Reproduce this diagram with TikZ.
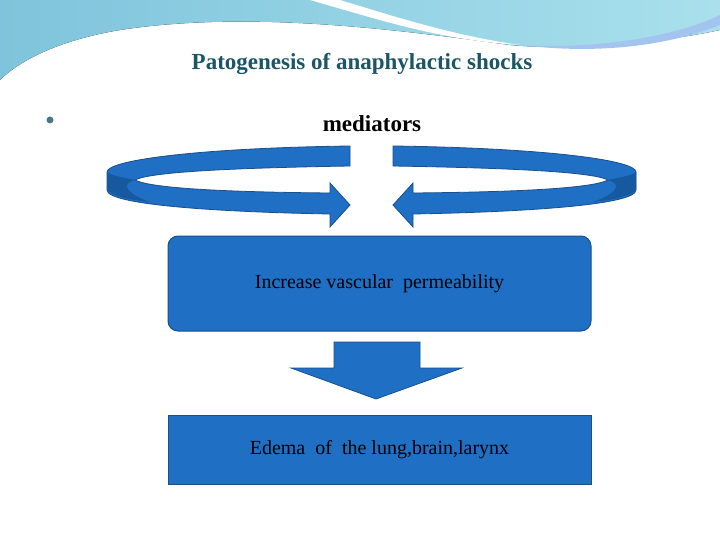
\documentclass[tikz,border=0pt]{standalone}
\usepackage{fontspec}
\setmainfont{Liberation Serif}
\begin{document}
\begin{tikzpicture}[x=1pt,y=-1pt,
  band/.style={fill=blueA,draw=blueB,line width=0.8pt},
  box/.style={fill=blueA,draw=blueB,line width=1pt,minimum width=423pt,font=\fontsize{20}{24}\selectfont}]
\definecolor{blueA}{HTML}{1F6FC4}
\definecolor{blueB}{HTML}{1A4F8C}
\definecolor{blueD}{HTML}{17599F}
\definecolor{sky1}{HTML}{7FC4DC}
\definecolor{sky2}{HTML}{A9E0EC}
\definecolor{teal}{HTML}{1C5566}
\useasboundingbox (0,0) rectangle (720,540);
\fill[white] (0,0) rectangle (720,540);
% header wave
\fill[left color=sky1,right color=sky2] (0,0) -- (720,0) -- (720,30) .. controls (650,45) and (560,50) .. (510,45)
  .. controls (400,30) and (250,10) .. (120,30) .. controls (60,40) and (20,60) .. (0,80) -- cycle;
\fill[white] (310,0) .. controls (380,20) and (440,40) .. (520,45) .. controls (450,35) and (390,15) .. (340,0) -- cycle;
\fill[sky1!80!blue!60] (520,45) .. controls (600,50) and (680,35) .. (720,15) -- (720,25) .. controls (670,45) and (600,55) .. (520,45);
\node[font=\bfseries\fontsize{23}{27}\selectfont,text=teal] (title) at (362,64) {Patogenesis of anaphylactic shocks};
\node[circle,fill=teal!80,inner sep=0pt,minimum size=7pt] (bul) at (50,120) {};
\node[font=\bfseries\fontsize{23}{27}\selectfont] (med) at (372,124) {mediators};
% curved arrows
\foreach \s/\o in {1/0,-1/743}{
 \begin{scope}[xshift=\o,xscale=\s]
 \path[band] (350,146) .. controls (200,148) and (107,160) .. (107,172) -- (107,190)
   .. controls (107,205) and (220,212) .. (330,214) -- (330,227) -- (350,205) -- (330,183) -- (330,193)
   .. controls (220,192) and (150,188) .. (135,180) .. controls (150,172) and (230,168) .. (350,166) -- cycle;
 \fill[blueD] (107,172) -- (107,190) .. controls (112,196) and (130,200) .. (150,202) .. controls (130,195) and (118,185) .. (135,180) .. controls (120,177) and (110,175) .. (107,172);
 \end{scope}}
\node[box,rounded corners=10pt,minimum height=95pt] (inc) at (379.5,283.5) {Increase vascular\ \ permeability};
\draw[band] (334,342) -- (420,342) -- (420,368) -- (462,368) -- (376,399) -- (291,368) -- (334,368) -- cycle;
\node[box,minimum height=69pt] (ede) at (379.5,449.5) {Edema\ \ of\ \ the lung,brain,larynx};
\end{tikzpicture}
\end{document}
